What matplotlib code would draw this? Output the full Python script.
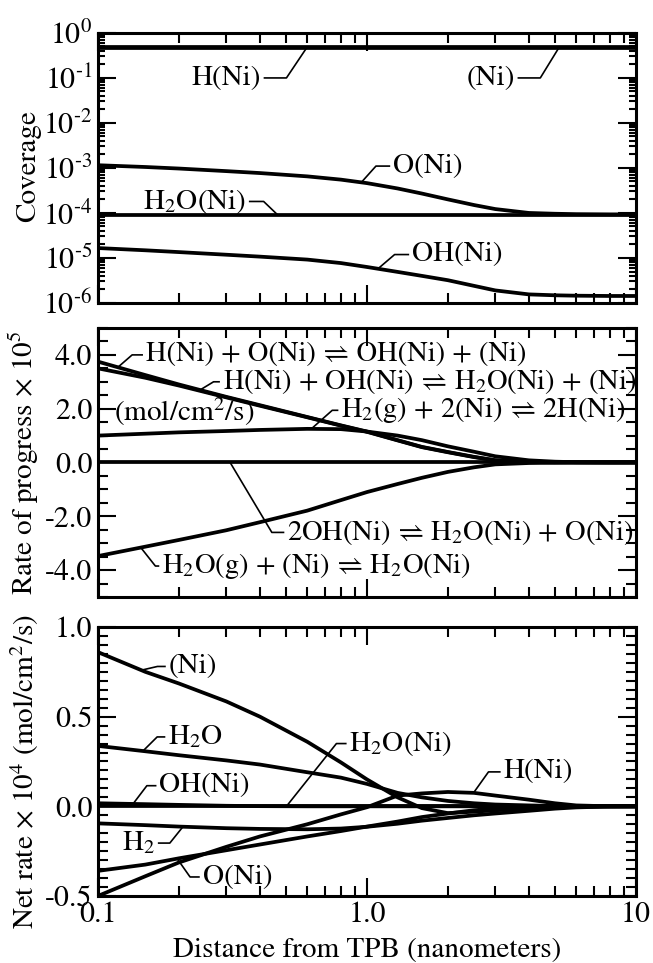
import numpy as np
import matplotlib
matplotlib.use('Agg')
import matplotlib.pyplot as plt
from matplotlib.ticker import (FixedLocator, LogLocator, NullFormatter, MultipleLocator,
                               FuncFormatter, FormatStrFormatter)

plt.rcParams['font.family'] = ['STIXGeneral', 'DejaVu Sans']
plt.rcParams['mathtext.fontset'] = 'stix'
plt.rcParams['axes.unicode_minus'] = False
plt.rcParams['font.size'] = 21

# distance from the triple-phase boundary, nm
dist = [0.1, 0.15, 0.2, 0.3, 0.4, 0.6, 0.8, 1.0, 1.3, 1.6, 2.0, 2.5, 3.0, 4.0, 5.0, 6.0, 8.0, 10.0]

# surface coverages
cov_H = [0.49, 0.49, 0.49, 0.49, 0.49, 0.49, 0.49, 0.49, 0.49, 0.49, 0.49, 0.49, 0.49, 0.49, 0.49, 0.49, 0.49, 0.49]
cov_Ni = [0.47, 0.47, 0.47, 0.47, 0.47, 0.47, 0.47, 0.47, 0.47, 0.47, 0.47, 0.47, 0.47, 0.47, 0.47, 0.47, 0.47, 0.47]
cov_O = [1.15e-3, 1.05e-3, 9.7e-4, 8.5e-4, 7.7e-4, 6.5e-4, 5.5e-4, 4.6e-4, 3.5e-4, 2.7e-4,
         2.0e-4, 1.5e-4, 1.22e-4, 1.0e-4, 9.6e-5, 9.4e-5, 9.3e-5, 9.3e-5]
cov_H2O = [8.8e-5, 8.8e-5, 8.8e-5, 8.8e-5, 8.8e-5, 8.8e-5, 8.8e-5, 8.8e-5, 8.8e-5, 8.8e-5,
           8.8e-5, 8.8e-5, 8.8e-5, 8.8e-5, 8.8e-5, 8.8e-5, 8.8e-5, 8.8e-5]
cov_OH = [1.66e-5, 1.48e-5, 1.35e-5, 1.18e-5, 1.07e-5, 9.2e-6, 7.7e-6, 6.3e-6, 4.9e-6, 4.0e-6,
          3.2e-6, 2.4e-6, 1.9e-6, 1.55e-6, 1.48e-6, 1.45e-6, 1.43e-6, 1.43e-6]

# rates of progress (x 1e5 mol/cm2/s)
rop_H_O = [3.75, 3.25, 2.9, 2.44, 2.13, 1.69, 1.38, 1.15, 0.83, 0.58, 0.39, 0.21, 0.08, 0.02, 0.005, 0.0, 0.0, 0.0]
rop_H_OH = [3.5, 3.15, 2.86, 2.42, 2.11, 1.68, 1.37, 1.14, 0.82, 0.57, 0.38, 0.2, 0.08, 0.02, 0.005, 0.0, 0.0, 0.0]
rop_H2 = [1.0, 1.07, 1.12, 1.17, 1.21, 1.25, 1.24, 1.15, 1.0, 0.83, 0.6, 0.4, 0.23, 0.08, 0.03, 0.01, 0.0, 0.0]
rop_OH_OH = [0.0, 0.0, 0.0, 0.0, 0.0, 0.0, 0.0, 0.0, 0.0, 0.0, 0.0, 0.0, 0.0, 0.0, 0.0, 0.0, 0.0, 0.0]
rop_H2O = [-3.48, -3.13, -2.88, -2.52, -2.22, -1.79, -1.4, -1.1, -0.8, -0.57, -0.35, -0.18, -0.07, -0.02, -0.01, 0.0, 0.0, 0.0]

# net production rates (x 1e4 mol/cm2/s)
net_Ni = [0.86, 0.75, 0.685, 0.585, 0.5, 0.36, 0.245, 0.15, 0.05, -0.01, -0.038, -0.03, -0.022, -0.012, -0.006, -0.002, 0.0, 0.0]
net_H2O = [0.337, 0.307, 0.285, 0.256, 0.233, 0.19, 0.16, 0.125, 0.075, 0.05, 0.03, 0.017, 0.01, 0.005, 0.002, 0.0, 0.0, 0.0]
net_OH = [0.017, 0.012, 0.008, 0.003, 0.001, 0.0, 0.0, 0.0, 0.0, 0.0, 0.0, 0.0, 0.0, 0.0, 0.0, 0.0, 0.0, 0.0]
net_H2O_Ni = [0.0, 0.0, 0.0, 0.0, 0.0, 0.0, 0.0, 0.0, 0.0, 0.0, 0.0, 0.0, 0.0, 0.0, 0.0, 0.0, 0.0, 0.0]
net_H = [-0.5, -0.39, -0.313, -0.226, -0.168, -0.1, -0.045, -0.005, 0.06, 0.072, 0.08, 0.075, 0.06, 0.037, 0.017, 0.005, 0.0, 0.0]
net_H2 = [-0.095, -0.105, -0.113, -0.122, -0.126, -0.128, -0.124, -0.114, -0.097, -0.08, -0.065, -0.05, -0.04, -0.025, -0.013, -0.006, -0.001, 0.0]
net_O = [-0.36, -0.325, -0.29, -0.245, -0.213, -0.168, -0.138, -0.113, -0.085, -0.06, -0.04, -0.022, -0.012, -0.004, -0.001, 0.0, 0.0, 0.0]

LW = 2.7


def style(ax):
    ax.set_xscale('log')
    ax.set_xlim(0.1, 10)
    ax.xaxis.set_major_locator(FixedLocator([0.1, 1.0, 10.0]))
    ax.xaxis.set_minor_locator(LogLocator(base=10, subs=np.arange(2, 10)))
    ax.xaxis.set_minor_formatter(NullFormatter())
    ax.tick_params(which='both', direction='in', top=True, right=True, width=1.5)
    ax.tick_params(which='major', length=13, pad=4, labelsize=21.5)
    ax.tick_params(which='minor', length=7)
    for s in ax.spines.values():
        s.set_linewidth(2.2)


def leader(ax, curve, x0, x1, x2, yt, text, ha='left', logy=False, size=21):
    lx = np.log10(dist)
    if logy:
        y0 = 10 ** np.interp(np.log10(x0), lx, np.log10(curve))
    else:
        y0 = np.interp(np.log10(x0), lx, curve)
    ax.plot([x0, x1, x2], [y0, yt, yt], color='k', lw=1.2, solid_capstyle='butt')
    off = 2 if ha == 'left' else -2
    ax.annotate(text, xy=(x2, yt), xytext=(off, 0), textcoords='offset points',
                ha=ha, va='center', fontsize=size)


def pow10(v, pos):
    return r'10$^{\text{%d}}$' % int(round(np.log10(v)))


fig = plt.figure(figsize=(6.53, 9.63), dpi=100)
ax1 = fig.add_axes([0.150, 0.6854, 0.8239, 0.2804])
ax2 = fig.add_axes([0.150, 0.3801, 0.8239, 0.2793])
ax3 = fig.add_axes([0.150, 0.0696, 0.8239, 0.2793])

# coverage
for c in (cov_H, cov_Ni, cov_O, cov_H2O, cov_OH):
    ax1.plot(dist, c, color='k', lw=LW)
style(ax1)
ax1.set_yscale('log')
ax1.set_ylim(1e-6, 1)
ax1.yaxis.set_major_locator(LogLocator(base=10, numticks=10))
ax1.yaxis.set_major_formatter(FuncFormatter(pow10))
ax1.yaxis.set_minor_locator(LogLocator(base=10, subs=np.arange(2, 10), numticks=10))
ax1.yaxis.set_minor_formatter(NullFormatter())
ax1.tick_params(axis='y', which='minor', length=5)
ax1.set_xticklabels([])
ax1.set_ylabel('Coverage', fontsize=21)
ax1.yaxis.set_label_coords(-0.105, 0.507)
leader(ax1, cov_H, 0.60, 0.502, 0.413, 0.1, 'H(Ni)', ha='right', logy=True)
leader(ax1, cov_Ni, 5.17, 4.41, 3.63, 0.1, '(Ni)', ha='right', logy=True)
leader(ax1, cov_O, 0.953, 1.08, 1.22, 1.1e-3, 'O(Ni)', logy=True)
leader(ax1, cov_H2O, 0.468, 0.413, 0.364, 1.8e-4, 'H$_2$O(Ni)', ha='right', logy=True)
leader(ax1, cov_OH, 1.099, 1.267, 1.435, 1.19e-5, 'OH(Ni)', logy=True)

# rates of progress
for r in (rop_H_O, rop_H_OH, rop_H2, rop_OH_OH, rop_H2O):
    ax2.plot(dist, r, color='k', lw=LW)
style(ax2)
ax2.set_ylim(-5, 5)
ax2.yaxis.set_major_locator(MultipleLocator(2.0))
ax2.yaxis.set_minor_locator(MultipleLocator(0.5))
ax2.yaxis.set_major_formatter(FormatStrFormatter('%.1f'))
ax2.set_xticklabels([])
ax2.set_ylabel('Rate of progress × 10$^5$', fontsize=21)
ax2.yaxis.set_label_coords(-0.105, 0.5)
leader(ax2, rop_H_O, 0.1186, 0.134, 0.147, 4.0, 'H(Ni) + O(Ni) ⇌ OH(Ni) + (Ni)', size=20.5)
leader(ax2, rop_H_OH, 0.2376, 0.269, 0.284, 3.0, 'H(Ni) + OH(Ni) ⇌ H$_2$O(Ni) + (Ni)', size=20.5)
leader(ax2, rop_H2, 0.621, 0.743, 0.783, 1.94, 'H$_2$(g) + 2(Ni) ⇌ 2H(Ni)', size=20.5)
leader(ax2, rop_OH_OH, 0.31, 0.443, 0.493, -2.6, '2OH(Ni) ⇌ H$_2$O(Ni) + O(Ni)', size=20.5)
leader(ax2, rop_H2O, 0.1443, 0.1635, 0.169, -3.85, 'H$_2$O(g) + (Ni) ⇌ H$_2$O(Ni)', size=20.5)
ax2.text(0.1145, 1.9, '(mol/cm$^2$/s)', ha='left', va='center', fontsize=21)

# net production rates
for n in (net_Ni, net_H2O, net_OH, net_H2O_Ni, net_H, net_H2, net_O):
    ax3.plot(dist, n, color='k', lw=LW)
style(ax3)
ax3.set_ylim(-0.5, 1.0)
ax3.yaxis.set_major_locator(MultipleLocator(0.5))
ax3.yaxis.set_minor_locator(MultipleLocator(0.05))
ax3.yaxis.set_major_formatter(FormatStrFormatter('%.1f'))
ax3.set_xticklabels(['0.1', '1.0', '10'])
ax3.set_xlabel('Distance from TPB (nanometers)', fontsize=21, labelpad=6)
ax3.set_ylabel('Net rate × 10$^4$ (mol/cm$^2$/s)', fontsize=21)
ax3.yaxis.set_label_coords(-0.105, 0.463)
leader(ax3, net_Ni, 0.145, 0.1664, 0.1787, 0.78, '(Ni)')
leader(ax3, net_H2O, 0.147, 0.166, 0.178, 0.387, 'H$_2$O')
leader(ax3, net_H2O_Ni, 0.502, 0.77, 0.84, 0.35, 'H$_2$O(Ni)')
leader(ax3, net_H, 2.49, 2.83, 3.14, 0.192, 'H(Ni)')
leader(ax3, net_OH, 0.135, 0.152, 0.165, 0.115, 'OH(Ni)')
leader(ax3, net_H2, 0.207, 0.185, 0.167, -0.205, 'H$_2$', ha='right')
leader(ax3, net_O, 0.197, 0.22, 0.239, -0.394, 'O(Ni)')

fig.savefig('out.png', dpi=100)
